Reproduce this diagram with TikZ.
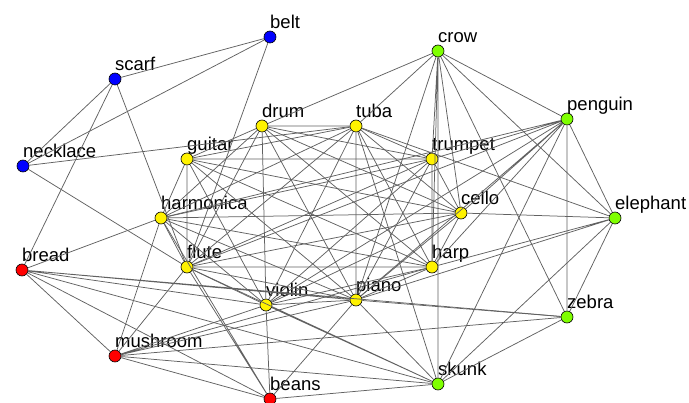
\documentclass[tikz,border=0pt]{standalone}
\usepackage{fontspec}
\setmainfont{Liberation Sans}
\definecolor{vertpomme}{RGB}{127,255,0}

\begin{document}
\begin{tikzpicture}[x=1pt,y=-1pt]
\tikzset{rond/.style={draw, circle, inner sep=0pt, minimum size=12pt, line width=0.6pt, label distance=3.5pt},
  mot/.style={anchor=base west, inner sep=0pt, yshift=2.5pt, font=\fontsize{18.5}{20}\selectfont},
  lien/.style={draw=black!62, line width=0.75pt}}
\useasboundingbox (0,0) rectangle (689,403);
\clip (0,0) rectangle (689,403);
% accessoires
\node[rond, fill=blue, label={[mot]90:belt}] (belt) at (270,37) {};
\node[rond, fill=blue, label={[mot]90:scarf}] (scarf) at (115,79) {};
\node[rond, fill=blue, label={[mot]90:necklace}] (necklace) at (23,166) {};
% nourriture
\node[rond, fill=red, label={[mot]90:bread}] (bread) at (22,270) {};
\node[rond, fill=red, label={[mot]90:mushroom}] (mushroom) at (115,356) {};
\node[rond, fill=red, label={[mot]90:beans}] (beans) at (270,399) {};
% instruments
\node[rond, fill=yellow, label={[mot]90:drum}] (drum) at (262,126) {};
\node[rond, fill=yellow, label={[mot]90:tuba}] (tuba) at (356,126) {};
\node[rond, fill=yellow, label={[mot]90:guitar}] (guitar) at (187,159) {};
\node[rond, fill=yellow, label={[mot]90:trumpet}] (trumpet) at (432,159) {};
\node[rond, fill=yellow, label={[mot]90:harmonica}] (harmonica) at (161,218) {};
\node[rond, fill=yellow, label={[mot]90:cello}] (cello) at (461,213) {};
\node[rond, fill=yellow, label={[mot]90:flute}] (flute) at (187,267) {};
\node[rond, fill=yellow, label={[mot]90:harp}] (harp) at (432,267) {};
\node[rond, fill=yellow, label={[mot]90:violin}] (violin) at (266,305) {};
\node[rond, fill=yellow, label={[mot]90:piano}] (piano) at (356,300) {};
% animaux
\node[rond, fill=vertpomme, label={[mot]90:crow}] (crow) at (438,51) {};
\node[rond, fill=vertpomme, label={[mot]90:penguin}] (penguin) at (567,119) {};
\node[rond, fill=vertpomme, label={[mot]90:elephant}] (elephant) at (615,218) {};
\node[rond, fill=vertpomme, label={[mot]90:zebra}] (zebra) at (567,317) {};
\node[rond, fill=vertpomme, label={[mot]90:skunk}] (skunk) at (438,384) {};
% les instruments sont tous relies
\draw[lien] (drum) -- (tuba) (drum) -- (guitar) (drum) -- (trumpet) (drum) -- (harmonica) (drum) -- (cello) (drum) -- (flute) (drum) -- (harp) (drum) -- (violin) (drum) -- (piano);
\draw[lien] (tuba) -- (guitar) (tuba) -- (trumpet) (tuba) -- (harmonica) (tuba) -- (cello) (tuba) -- (flute) (tuba) -- (harp) (tuba) -- (violin) (tuba) -- (piano);
\draw[lien] (guitar) -- (trumpet) (guitar) -- (harmonica) (guitar) -- (cello) (guitar) -- (flute) (guitar) -- (harp) (guitar) -- (violin) (guitar) -- (piano);
\draw[lien] (trumpet) -- (harmonica) (trumpet) -- (cello) (trumpet) -- (flute) (trumpet) -- (harp) (trumpet) -- (violin) (trumpet) -- (piano);
\draw[lien] (harmonica) -- (cello) (harmonica) -- (flute) (harmonica) -- (harp) (harmonica) -- (violin) (harmonica) -- (piano);
\draw[lien] (cello) -- (flute) (cello) -- (harp) (cello) -- (violin) (cello) -- (piano);
\draw[lien] (flute) -- (harp) (flute) -- (violin) (flute) -- (piano);
\draw[lien] (harp) -- (violin) (harp) -- (piano);
\draw[lien] (violin) -- (piano);
% accessoires
\draw[lien] (belt) -- (scarf) (belt) -- (necklace) (belt) -- (flute);
\draw[lien] (scarf) -- (necklace) (scarf) -- (bread) (scarf) -- (flute);
\draw[lien] (necklace) -- (tuba) (necklace) -- (flute);
% nourriture
\draw[lien] (bread) -- (harmonica) (bread) -- (mushroom) (bread) -- (violin) (bread) -- (piano) (bread) -- (zebra) (bread) -- (skunk) (bread) -- (beans);
\draw[lien] (mushroom) -- (harmonica) (mushroom) -- (flute) (mushroom) -- (violin) (mushroom) -- (piano) (mushroom) -- (harp) (mushroom) -- (zebra) (mushroom) -- (skunk) (mushroom) -- (beans);
\draw[lien] (beans) -- (harmonica) (beans) -- (flute) (beans) -- (violin) (beans) -- (piano) (beans) -- (skunk);
% animaux
\draw[lien] (crow) -- (drum) (crow) -- (tuba) (crow) -- (trumpet) (crow) -- (cello) (crow) -- (harp) (crow) -- (piano) (crow) -- (skunk) (crow) -- (zebra) (crow) -- (elephant) (crow) -- (penguin);
\draw[lien] (penguin) -- (trumpet) (penguin) -- (harmonica) (penguin) -- (flute) (penguin) -- (violin) (penguin) -- (cello) (penguin) -- (harp) (penguin) -- (piano) (penguin) -- (skunk) (penguin) -- (zebra) (penguin) -- (elephant);
\draw[lien] (elephant) -- (tuba) (elephant) -- (cello) (elephant) -- (harp) (elephant) -- (piano) (elephant) -- (zebra) (elephant) -- (skunk);
\draw[lien] (zebra) -- (piano) (zebra) -- (skunk);
\draw[lien] (skunk) -- (violin) (skunk) -- (piano) (skunk) -- (tuba) (skunk) -- (flute);
\end{tikzpicture}
\end{document}
